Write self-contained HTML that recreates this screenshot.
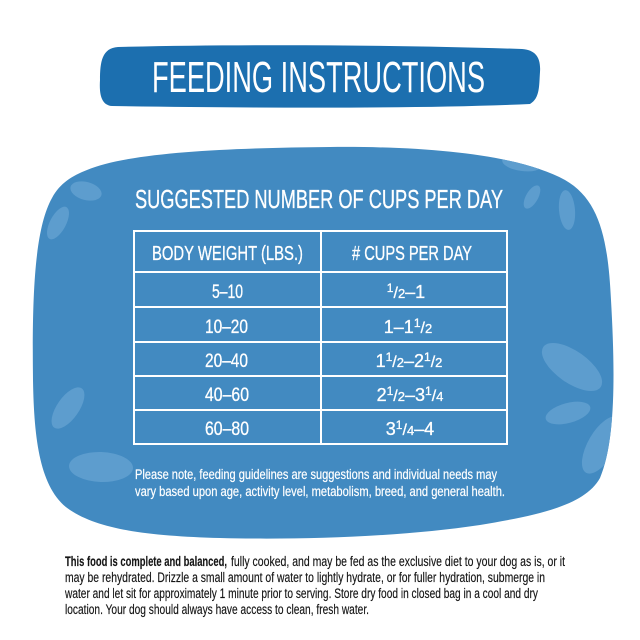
<!DOCTYPE html>
<html>
<head>
<meta charset="utf-8">
<style>
html,body{margin:0;padding:0;background:#fff;}
svg{display:block;}
</style>
</head>
<body>
<svg width="640" height="640" viewBox="0 0 640 640" xmlns="http://www.w3.org/2000/svg">
  <defs>
    <clipPath id="blobclip">
      <path d="M 87,170 C 130,152 230,148 330,147 C 430,146 520,155 565,180 C 600,200 608,240 611,300 C 615,370 616,440 600,478 C 585,505 540,515 480,525 C 400,537 300,540 220,538 C 150,536 100,530 70,510 C 40,490 34,440 33,380 C 32,300 34,230 52,198 C 60,183 72,176 87,170 Z"/>
    </clipPath>
  </defs>
  <rect width="640" height="640" fill="#ffffff"/>

  <!-- Banner -->
  <path d="M 118,47 C 250,44 400,45 522,49 C 536,50 541,58 540,72 C 539,86 540,98 530,104 C 420,109 250,108 112,106 C 102,105 99,96 100,80 C 100,62 102,48 118,47 Z" fill="#1c6faf"/>
  <text x="152" y="92" font-family="Liberation Sans, sans-serif" font-size="44" fill="#ffffff" textLength="333" lengthAdjust="spacingAndGlyphs">FEEDING INSTRUCTIONS</text>

  <!-- Blob -->
  <path d="M 87,170 C 130,152 230,148 330,147 C 430,146 520,155 565,180 C 600,200 608,240 611,300 C 615,370 616,440 600,478 C 585,505 540,515 480,525 C 400,537 300,540 220,538 C 150,536 100,530 70,510 C 40,490 34,440 33,380 C 32,300 34,230 52,198 C 60,183 72,176 87,170 Z" fill="#428ac1"/>
  <g clip-path="url(#blobclip)" fill="#5d9dce">
    <ellipse cx="86" cy="191" rx="16" ry="9" transform="rotate(15 86 191)"/>
    <ellipse cx="58" cy="223" rx="18" ry="8" transform="rotate(-62 58 223)"/>
    <ellipse cx="68" cy="408" rx="24" ry="11" transform="rotate(-55 68 408)"/>
    <ellipse cx="101" cy="467" rx="32" ry="15" transform="rotate(2 101 467)"/>
    <ellipse cx="522" cy="163" rx="20" ry="8" transform="rotate(8 522 163)"/>
    <ellipse cx="532" cy="197" rx="6" ry="13" transform="rotate(30 532 197)"/>
    <ellipse cx="567" cy="210" rx="8" ry="20" transform="rotate(-5 567 210)"/>
    <ellipse cx="572" cy="367" rx="35" ry="16" transform="rotate(35 572 367)"/>
    <ellipse cx="568" cy="413" rx="23" ry="10" transform="rotate(-15 568 413)"/>
    <ellipse cx="602" cy="445" rx="32" ry="14" transform="rotate(-60 602 445)"/>
  </g>

  <!-- Subtitle -->
  <text x="135" y="208" font-family="Liberation Sans, sans-serif" font-size="26" fill="#ffffff" stroke="#ffffff" stroke-width="0.3" textLength="368" lengthAdjust="spacingAndGlyphs">SUGGESTED NUMBER OF CUPS PER DAY</text>

  <!-- Table -->
  <g stroke="#ffffff" stroke-width="2" fill="none">
    <rect x="134" y="231" width="373" height="213"/>
    <line x1="321" y1="231" x2="321" y2="444"/>
    <line x1="134" y1="272" x2="507" y2="272"/>
    <line x1="134" y1="307" x2="507" y2="307"/>
    <line x1="134" y1="342" x2="507" y2="342"/>
    <line x1="134" y1="376" x2="507" y2="376"/>
    <line x1="134" y1="410" x2="507" y2="410"/>
  </g>

  <g font-family="Liberation Sans, sans-serif" fill="#ffffff" stroke="#ffffff" stroke-width="0.3">
    <text x="152" y="260" font-size="20" textLength="151" lengthAdjust="spacingAndGlyphs">BODY WEIGHT (LBS.)</text>
    <text x="352" y="260" font-size="20" textLength="120" lengthAdjust="spacingAndGlyphs"># CUPS PER DAY</text>

    <text x="212" y="298" font-size="19" textLength="31" lengthAdjust="spacingAndGlyphs">5–10</text>
    <text x="205" y="333" font-size="19" textLength="43" lengthAdjust="spacingAndGlyphs">10–20</text>
    <text x="205" y="367" font-size="19" textLength="43" lengthAdjust="spacingAndGlyphs">20–40</text>
    <text x="205" y="401" font-size="19" textLength="44" lengthAdjust="spacingAndGlyphs">40–60</text>
    <text x="205" y="435" font-size="19" textLength="44" lengthAdjust="spacingAndGlyphs">60–80</text>

    <text x="406" y="298" font-size="18" text-anchor="middle"><tspan font-size="12" dy="-6">1</tspan><tspan font-size="16" dy="6">/</tspan><tspan font-size="13">2</tspan><tspan>–1</tspan></text>
    <text x="408" y="333" font-size="18" text-anchor="middle"><tspan>1–1</tspan><tspan font-size="12" dy="-6">1</tspan><tspan font-size="16" dy="6">/</tspan><tspan font-size="13">2</tspan></text>
    <text x="409" y="367" font-size="18" text-anchor="middle"><tspan>1</tspan><tspan font-size="12" dy="-6">1</tspan><tspan font-size="16" dy="6">/</tspan><tspan font-size="13">2</tspan><tspan>–2</tspan><tspan font-size="12" dy="-6">1</tspan><tspan font-size="16" dy="6">/</tspan><tspan font-size="13">2</tspan></text>
    <text x="410" y="401" font-size="18" text-anchor="middle"><tspan>2</tspan><tspan font-size="12" dy="-6">1</tspan><tspan font-size="16" dy="6">/</tspan><tspan font-size="13">2</tspan><tspan>–3</tspan><tspan font-size="12" dy="-6">1</tspan><tspan font-size="16" dy="6">/</tspan><tspan font-size="13">4</tspan></text>
    <text x="410" y="435" font-size="18" text-anchor="middle"><tspan>3</tspan><tspan font-size="12" dy="-6">1</tspan><tspan font-size="16" dy="6">/</tspan><tspan font-size="13">4</tspan><tspan>–4</tspan></text>

    <text x="135" y="479" font-size="13.5" stroke-width="0.2" textLength="362" lengthAdjust="spacingAndGlyphs">Please note, feeding guidelines are suggestions and individual needs may</text>
    <text x="135" y="496" font-size="13.5" stroke-width="0.2" textLength="370" lengthAdjust="spacingAndGlyphs">vary based upon age, activity level, metabolism, breed, and general health.</text>
  </g>

  <!-- Bottom paragraph -->
  <g font-family="Liberation Sans, sans-serif" font-size="13.5" fill="#151515" stroke="#151515" stroke-width="0.15">
    <text x="65" y="566" font-weight="bold" textLength="162" lengthAdjust="spacingAndGlyphs">This food is complete and balanced,</text>
    <text x="231" y="566" textLength="334" lengthAdjust="spacingAndGlyphs">fully cooked, and may be fed as the exclusive diet to your dog as is, or it</text>
    <text x="65" y="582" textLength="480" lengthAdjust="spacingAndGlyphs">may be rehydrated. Drizzle a small amount of water to lightly hydrate, or for fuller hydration, submerge in</text>
    <text x="65" y="598" textLength="473" lengthAdjust="spacingAndGlyphs">water and let sit for approximately 1 minute prior to serving. Store dry food in closed bag in a cool and dry</text>
    <text x="65" y="614" textLength="304" lengthAdjust="spacingAndGlyphs">location. Your dog should always have access to clean, fresh water.</text>
  </g>
</svg>
</body>
</html>
